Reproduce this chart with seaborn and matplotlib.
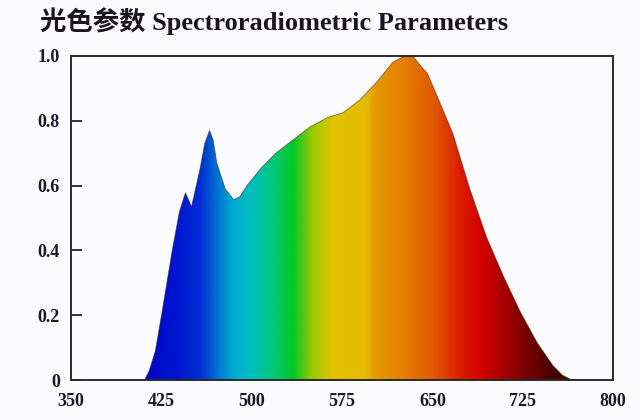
#!/usr/bin/env python3

import numpy as np
import pandas as pd
import seaborn as sns
import matplotlib.pyplot as plt
from matplotlib.colors import LinearSegmentedColormap

# spectrum (nm, relative intensity)
wavelength = [405, 411, 415, 420, 426, 434, 440, 445, 450, 457, 461, 465, 468,
              471, 478, 485, 490, 496, 508, 520, 534, 548, 563, 576, 590, 604,
              617, 626, 634, 640, 646, 654, 667, 681, 695, 709, 723, 737, 750,
              758, 765, 770]
intensity = [0, 0.0, 0.03, 0.09, 0.22, 0.40, 0.52, 0.578, 0.535, 0.65, 0.73,
             0.77, 0.74, 0.67, 0.59, 0.557, 0.565, 0.60, 0.655, 0.70, 0.74,
             0.78, 0.81, 0.825, 0.865, 0.92, 0.98, 0.998, 0.998, 0.97, 0.945,
             0.875, 0.76, 0.59, 0.44, 0.32, 0.21, 0.115, 0.045, 0.015, 0.002, 0]

x_ticks = [350, 425, 500, 575, 650, 725, 800]
y_ticks = [0, 0.2, 0.4, 0.6, 0.8, 1.0]
y_labels = ['0', '0.2', '0.4', '0.6', '0.8', '1.0']
title = '光色参数 Spectroradiometric Parameters'

# rough colour of the fill at each wavelength
color_nm = [400, 435, 457, 468, 484, 499, 518, 534, 551, 567, 596, 604, 623,
            651, 673, 692, 712, 729, 748, 780]
color_rgb = [(0, 0, 190), (0, 20, 210), (0, 45, 210), (0, 100, 210),
             (0, 170, 210), (0, 190, 190), (0, 200, 120), (0, 200, 40),
             (160, 200, 0), (225, 195, 0), (230, 185, 0), (230, 150, 0),
             (230, 130, 0), (225, 90, 0), (220, 30, 0), (210, 0, 0),
             (160, 0, 0), (120, 0, 0), (80, 0, 0), (50, 0, 0)]


def make_plot():
    sns.set_style('ticks')
    plt.rcParams['font.family'] = ['Liberation Serif', 'Noto Sans CJK SC']

    df = pd.DataFrame({'nm': wavelength, 'rel': intensity})

    fig = plt.figure(figsize=(6.4, 4.2), dpi=100, facecolor='#fbfbfd')
    ax = fig.add_axes([0.111, 0.095, 0.847, 0.772])
    ax.set_facecolor('#fbfbfd')

    # polygon of the spectrum, used as clip path for the colour gradient
    poly = ax.fill_between(df['nm'], df['rel'], 0, color='none', lw=0)
    lo, hi = color_nm[0], color_nm[-1]
    stops = [((n - lo) / (hi - lo), tuple(c / 255 for c in rgb))
             for n, rgb in zip(color_nm, color_rgb)]
    cmap = LinearSegmentedColormap.from_list('spec', stops)
    grad = np.linspace(0, 1, 600)[np.newaxis, :]
    im = ax.imshow(grad, extent=[lo, hi, 0, 1.01], aspect='auto', cmap=cmap,
                   origin='lower', interpolation='bilinear')
    im.set_clip_path(poly.get_paths()[0], transform=ax.transData)

    sns.lineplot(data=df, x='nm', y='rel', ax=ax, color='#3a2a10', lw=0.6,
                 alpha=0.6)

    ax.set_xlim(350, 800)
    ax.set_ylim(0, 1.0)
    ax.set_xticks(x_ticks)
    ax.set_xticklabels([str(t) for t in x_ticks])
    ax.set_yticks(y_ticks)
    ax.set_yticklabels(y_labels)
    ax.set_xlabel('')
    ax.set_ylabel('')
    ax.tick_params(axis='y', direction='in', length=8, width=1.3,
                   color='#222222', pad=8, labelsize=13,
                   labelcolor='#1a1a2a')
    ax.tick_params(axis='x', length=0, pad=9, labelsize=13,
                   labelcolor='#1a1a2a')
    for lab in ax.get_xticklabels() + ax.get_yticklabels():
        lab.set_fontweight('bold')
    for sp in ax.spines.values():
        sp.set_visible(True)
        sp.set_linewidth(1.4)
        sp.set_color('#2a2a2a')

    fig.text(0.062, 0.95, title, fontsize=19, fontweight='bold',
             color='#1a1420', ha='left', va='center')

    fig.savefig('out.png', dpi=100, facecolor=fig.get_facecolor())


if __name__ == '__main__':
    make_plot()
